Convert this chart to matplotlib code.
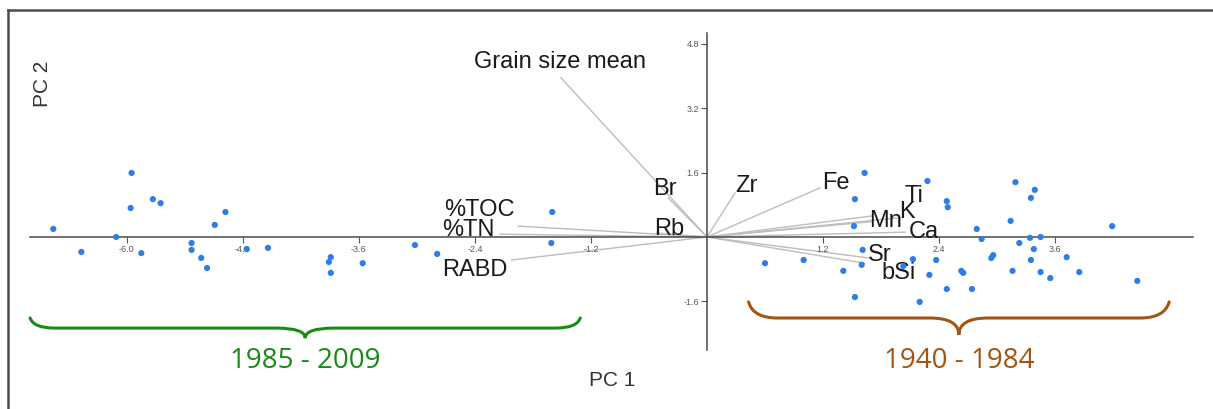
import numpy as np
import matplotlib.pyplot as plt
from matplotlib.path import Path
from matplotlib.patches import PathPatch
from matplotlib.lines import Line2D

# PCA sample scores, 1985-2009 group (negative PC 1)
recent_pc1 = [-6.76, -6.47, -6.11, -5.95, -5.96, -5.85, -5.73, -5.65, -5.33, -5.33,
              -5.23, -5.17, -5.09, -4.98, -4.76, -4.54, -3.89, -3.91, -3.89, -3.56,
              -3.02, -2.79, -1.60, -1.61]
recent_pc2 = [0.20, -0.37, 0.00, 1.59, 0.72, -0.40, 0.94, 0.84, -0.15, -0.32,
              -0.52, -0.77, 0.30, 0.62, -0.30, -0.27, -0.50, -0.62, -0.89, -0.65,
              -0.20, -0.42, 0.62, -0.15]

# PCA sample scores, 1940-1984 group (positive PC 1)
older_pc1 = [0.60, 1.00, 1.41, 1.53, 1.53, 1.52, 1.63, 1.61, 1.60, 2.03,
             2.13, 2.20, 2.28, 2.30, 2.37, 2.48, 2.49, 2.48, 2.63, 2.65,
             2.74, 2.79, 2.84, 2.94, 2.96, 3.14, 3.16, 3.19, 3.23, 3.35,
             3.39, 3.34, 3.45, 3.38, 3.35, 3.45, 3.55, 3.72, 3.85, 4.19, 4.45]
older_pc2 = [-0.65, -0.57, -0.84, -1.49, 0.94, 0.27, 1.59, -0.32, -0.69, -0.72,
             -0.55, -1.61, 1.39, -0.94, -0.57, 0.89, 0.74, -1.29, -0.84, -0.89,
             -1.29, 0.20, -0.05, -0.52, -0.45, 0.40, -0.84, 1.36, -0.15, 0.97,
             1.17, -0.02, 0.00, -0.30, -0.57, -0.87, -1.02, -0.50, -0.87, 0.27, -1.09]

# variable loadings (arrow tips)
var_names = ["Grain size mean", "Br", "Zr", "Rb", "%TOC", "%TN", "RABD",
             "Fe", "Ti", "K", "Mn", "Ca", "Sr", "bSi"]
load_pc1 = [-1.51, -0.40, 0.29, -0.52, -1.95, -2.14, -2.02,
            1.17, 1.70, 2.00, 1.70, 2.05, 1.67, 1.63]
load_pc2 = [3.95, 0.97, 1.09, 0.10, 0.27, 0.07, -0.57,
            1.22, 0.52, 0.48, 0.38, 0.12, -0.52, -0.65]

x_ticks = [-6.0, -4.8, -3.6, -2.4, -1.2, 1.2, 2.4, 3.6]
y_ticks = [-1.6, 1.6, 3.2, 4.8]

# where each variable name sits
label_pos = {
    "Grain size mean": (-1.52, 4.34), "Br": (-0.44, 1.19), "Zr": (0.41, 1.27),
    "Rb": (-0.39, 0.20), "%TOC": (-2.35, 0.67), "%TN": (-2.47, 0.17),
    "RABD": (-2.40, -0.82), "Fe": (1.33, 1.34), "Ti": (2.14, 1.02),
    "K": (2.07, 0.62), "Mn": (1.85, 0.40), "Ca": (2.24, 0.12),
    "Sr": (1.79, -0.45), "bSi": (1.98, -0.89),
}

groups = [
    # label, x start, x end, y end, y flat, y tip, end radius, mid radius, colour
    ("1985 - 2009", -7.00, -1.31, -2.01, -2.26, -2.51, 0.25, 0.30, "#178a17"),
    ("1940 - 1984", 0.43, 4.78, -1.61, -2.01, -2.43, 0.30, 0.30, "#a5540f"),
]


def brace_path(x0, x1, y_end, y_flat, y_tip, r_end, r_mid):
    xm = (x0 + x1) / 2
    verts = [
        (x0, y_end), (x0 + 0.15 * r_end, y_flat), (x0 + r_end, y_flat),
        (xm - r_mid, y_flat),
        (xm, y_flat), (xm, y_tip),
        (xm, y_flat), (xm + r_mid, y_flat),
        (x1 - r_end, y_flat),
        (x1 - 0.15 * r_end, y_flat), (x1, y_end),
    ]
    codes = [Path.MOVETO, Path.CURVE3, Path.CURVE3, Path.LINETO,
             Path.CURVE3, Path.CURVE3, Path.CURVE3, Path.CURVE3,
             Path.LINETO, Path.CURVE3, Path.CURVE3]
    return Path(verts, codes)


plt.rcParams["font.family"] = ["Liberation Sans", "DejaVu Sans"]

fig = plt.figure(figsize=(12.13, 4.09), dpi=100)
ax = fig.add_axes([0, 0, 1, 1])
ax.set_xlim(-7.311, 5.233)
ax.set_ylim(-4.268, 5.881)
ax.patch.set_visible(False)

# axes crossing at the origin
for side in ["top", "right"]:
    ax.spines[side].set_visible(False)
ax.spines["left"].set_position(("data", 0))
ax.spines["bottom"].set_position(("data", 0))
ax.spines["bottom"].set_bounds(-7.0, 5.03)
ax.spines["left"].set_bounds(-2.80, 5.06)
for side in ["left", "bottom"]:
    ax.spines[side].set_color("#4a4a4a")
    ax.spines[side].set_linewidth(1.1)

ax.set_xticks(x_ticks)
ax.set_yticks(y_ticks)
ax.set_xticklabels([f"{t:.1f}" for t in x_ticks])
ax.set_yticklabels([f"{t:.1f}" for t in y_ticks])
ax.tick_params(axis="both", direction="out", length=4, width=0.8,
               colors="#555555", labelsize=6.5, pad=1.5)

# loading vectors
for name, lx, ly in zip(var_names, load_pc1, load_pc2):
    ax.plot([0, lx], [0, ly], color="#bdbdbd", lw=1.0, zorder=1)
    tx, ty = label_pos[name]
    ax.text(tx, ty, name, fontsize=17, color="#1a1a1a",
            ha="center", va="center", zorder=4)

# sample scores
ax.scatter(recent_pc1, recent_pc2, s=20, color="#2f7de6", edgecolors="none", zorder=5)
ax.scatter(older_pc1, older_pc2, s=20, color="#2f7de6", edgecolors="none", zorder=5)

ax.text(0.505, 0.07, "PC 1", transform=ax.transAxes, fontsize=15,
        color="#333333", ha="center", va="center")
ax.text(0.035, 0.795, "PC 2", transform=ax.transAxes, fontsize=15,
        color="#333333", ha="center", va="center", rotation=90)

# period braces
for label, x0, x1, y_end, y_flat, y_tip, r_end, r_mid, colour in groups:
    path = brace_path(x0, x1, y_end, y_flat, y_tip, r_end, r_mid)
    ax.add_patch(PathPatch(path, facecolor="none", edgecolor=colour, lw=2.2,
                           capstyle="round", zorder=3))
    ax.text((x0 + x1) / 2, -3.08, label, fontsize=20, color=colour,
            family="Open Sans", ha="center", va="center")

# outer frame (left and top edges)
fig.add_artist(Line2D([8 / 1213, 8 / 1213], [0, 1 - 10 / 409],
                      transform=fig.transFigure, color="#4d4d4d", lw=1.8))
fig.add_artist(Line2D([8 / 1213, 1], [1 - 10 / 409, 1 - 10 / 409],
                      transform=fig.transFigure, color="#4d4d4d", lw=1.8))

fig.savefig("out.png", dpi=100)
